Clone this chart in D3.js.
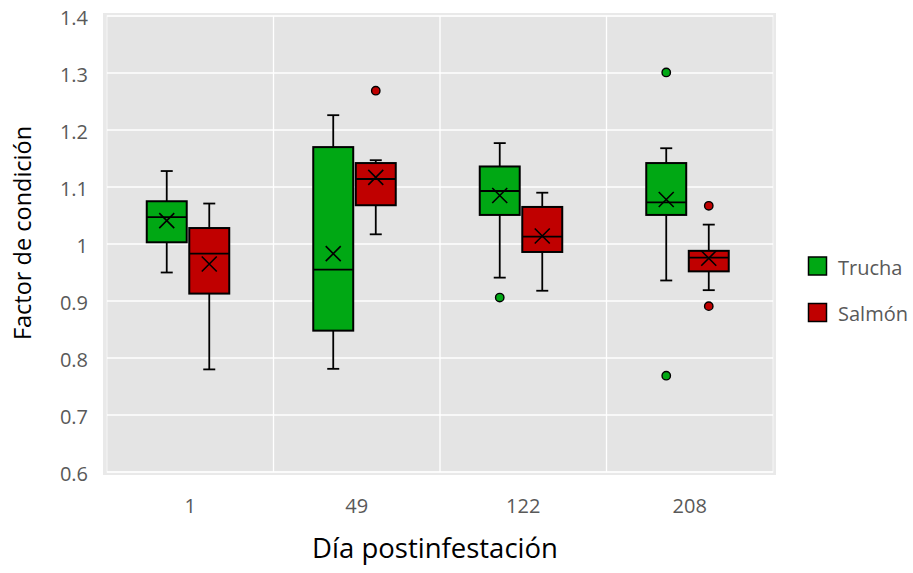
<!DOCTYPE html>
<html><head><meta charset="utf-8">
<script src="https://cdn.jsdelivr.net/npm/d3@7"></script>
<style>body{margin:0;background:#fff}svg{display:block}text{font-family:"Open Sans",sans-serif}</style>
</head><body>
<svg id="c" width="913" height="573"></svg>
<script>
const categories = ["1", "49", "122", "208"];
const seriesNames = ["Trucha", "Salmón"];
const seriesColors = ["#00a814", "#c00000"];
const yTicks = [0.6, 0.7, 0.8, 0.9, 1.0, 1.1, 1.2, 1.3, 1.4];

const truchaLow    = [0.950, 0.781, 0.941, 0.936];
const truchaQ1     = [1.003, 0.848, 1.051, 1.051];
const truchaMedian = [1.047, 0.955, 1.093, 1.073];
const truchaQ3     = [1.075, 1.170, 1.136, 1.142];
const truchaHigh   = [1.128, 1.226, 1.177, 1.168];
const truchaMean   = [1.041, 0.983, 1.085, 1.078];
const truchaOut    = [[], [], [0.906], [1.301, 0.769]];

const salmonLow    = [0.780, 1.017, 0.918, 0.919];
const salmonQ1     = [0.913, 1.068, 0.986, 0.952];
const salmonMedian = [0.983, 1.114, 1.013, 0.976];
const salmonQ3     = [1.028, 1.142, 1.065, 0.988];
const salmonHigh   = [1.071, 1.147, 1.090, 1.034];
const salmonMean   = [0.965, 1.117, 1.014, 0.975];
const salmonOut    = [[], [1.269], [], [1.067, 0.891]];

const seriesData = [
  {name: seriesNames[0], color: seriesColors[0], low: truchaLow, q1: truchaQ1, med: truchaMedian, q3: truchaQ3, high: truchaHigh, mean: truchaMean, out: truchaOut},
  {name: seriesNames[1], color: seriesColors[1], low: salmonLow, q1: salmonQ1, med: salmonMedian, q3: salmonQ3, high: salmonHigh, mean: salmonMean, out: salmonOut}
];

const svg = d3.select("#c");
const L = 107, R = 773, T = 16, B = 472;

const x = d3.scaleBand().domain(categories).range([L, R]);
const x1 = d3.scaleBand().domain(seriesNames).range([-43.5, 39]).paddingInner(0.06);
const y = d3.scaleLinear().domain([0.6, 1.4]).range([B, T]);

// plot frame
svg.append("rect").attr("x", 103).attr("y", 13).attr("width", 673).attr("height", 462).attr("fill", "#e9e9e9");
svg.append("rect").attr("x", L).attr("y", T).attr("width", R - L).attr("height", B - T)
  .attr("fill", "#e4e4e4").attr("stroke", "#f4f4f4").attr("stroke-width", 1.2);

// gridlines
svg.append("g").selectAll("line").data(yTicks).join("line")
  .attr("x1", L).attr("x2", R).attr("y1", d => y(d)).attr("y2", d => y(d))
  .attr("stroke", "#fff").attr("stroke-width", 1.3);
svg.append("g").selectAll("line").data(categories.slice(1)).join("line")
  .attr("x1", d => x(d)).attr("x2", d => x(d)).attr("y1", T).attr("y2", B)
  .attr("stroke", "#fff").attr("stroke-width", 1.3);

// axes
const fmt = d => d === 1 ? "1" : d3.format(".1f")(d);
const ya = svg.append("g").attr("transform", `translate(${L},0)`)
  .call(d3.axisLeft(y).tickValues(yTicks).tickFormat(fmt).tickSize(0).tickPadding(19));
ya.select(".domain").remove();
ya.selectAll("text").attr("font-size", 20).attr("fill", "#595959").attr("dy", "0.42em").style("font-family", "Open Sans");

const xa = svg.append("g").attr("transform", `translate(0,${B})`)
  .call(d3.axisBottom(x).tickSize(0).tickPadding(27));
xa.select(".domain").remove();
xa.selectAll("text").attr("font-size", 20).attr("fill", "#595959").style("font-family", "Open Sans");

// boxes
seriesData.forEach(s => {
  const g = svg.append("g");
  categories.forEach((c, i) => {
    const bx = x(c) + x.bandwidth() / 2 + x1(s.name);
    const bw = x1.bandwidth();
    const cx = bx + bw / 2;
    g.append("line").attr("x1", cx).attr("x2", cx).attr("y1", y(s.high[i])).attr("y2", y(s.q3[i])).attr("stroke", "#000").attr("stroke-width", 1.8);
    g.append("line").attr("x1", cx).attr("x2", cx).attr("y1", y(s.q1[i])).attr("y2", y(s.low[i])).attr("stroke", "#000").attr("stroke-width", 1.8);
    [s.high[i], s.low[i]].forEach(v => {
      g.append("line").attr("x1", cx - 6).attr("x2", cx + 6).attr("y1", y(v)).attr("y2", y(v)).attr("stroke", "#000").attr("stroke-width", 1.8);
    });
    g.append("rect").attr("x", bx).attr("y", y(s.q3[i])).attr("width", bw).attr("height", y(s.q1[i]) - y(s.q3[i]))
      .attr("fill", s.color).attr("stroke", "#000").attr("stroke-width", 2);
    g.append("line").attr("x1", bx).attr("x2", bx + bw).attr("y1", y(s.med[i])).attr("y2", y(s.med[i])).attr("stroke", "#000").attr("stroke-width", 1.8);
    const my = y(s.mean[i]), k = 7.5;
    g.append("path").attr("d", `M${cx - k},${my - k}L${cx + k},${my + k}M${cx - k},${my + k}L${cx + k},${my - k}`)
      .attr("stroke", "#000").attr("stroke-width", 1.6).attr("fill", "none");
    s.out[i].forEach(v => {
      g.append("circle").attr("cx", cx).attr("cy", y(v)).attr("r", 4.2).attr("fill", s.color).attr("stroke", "#000").attr("stroke-width", 1.4);
    });
  });
});

// legend
const lg = svg.append("g");
seriesData.forEach((s, i) => {
  const yy = 257 + i * 46.5;
  lg.append("rect").attr("x", 808.5).attr("y", yy).attr("width", 18).attr("height", 18)
    .attr("fill", s.color).attr("stroke", "#000").attr("stroke-width", 1.5);
  lg.append("text").attr("x", 838).attr("y", yy + 17.5).attr("font-size", 20).attr("fill", "#595959").text(s.name);
});

// titles
svg.append("text").attr("x", 435).attr("y", 558).attr("text-anchor", "middle").attr("font-size", 27.5).attr("fill", "#000").text("Día postinfestación");
svg.append("text").attr("transform", "translate(31,233) rotate(-90)").attr("text-anchor", "middle").attr("font-size", 23.5).attr("fill", "#000").text("Factor de condición");
</script>
</body></html>
